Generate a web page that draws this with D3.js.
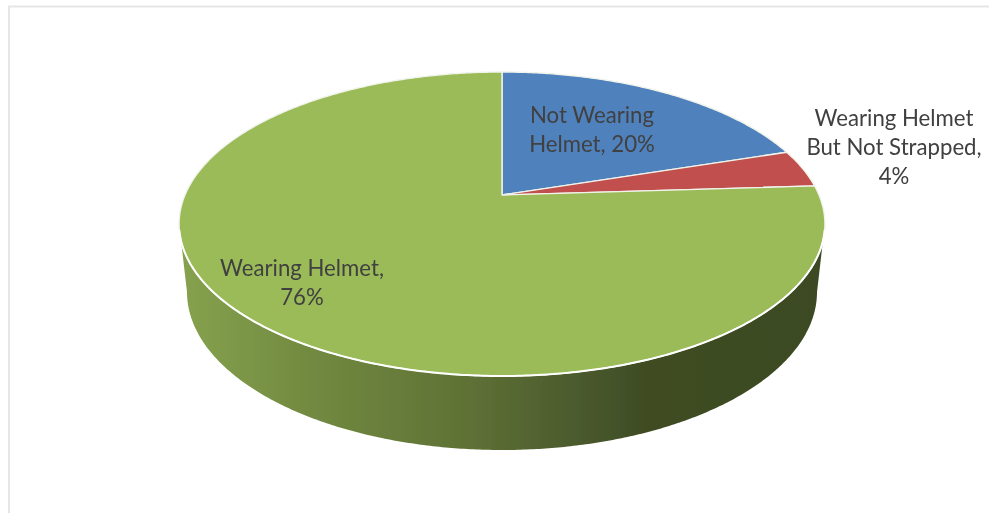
<!DOCTYPE html>
<html>
<head>
<meta charset="utf-8">
<script src="https://cdnjs.cloudflare.com/ajax/libs/d3/7.8.5/d3.min.js"></script>
<style>
html,body{margin:0;padding:0;background:#fff;overflow:hidden}
svg{display:block}
text{font-family:Lato,"Open Sans",sans-serif;font-size:22.2px;fill:#404040;text-anchor:middle}
</style>
</head>
<body>
<svg id="chart" width="989" height="513"></svg>
<script>
// Chart data
const categories = ["Not Wearing Helmet", "Wearing Helmet But Not Strapped", "Wearing Helmet"];
const values = [20, 4, 76];
const labelLines = [
  ["Not Wearing", "Helmet, 20%"],
  ["Wearing Helmet", "But Not Strapped,", "4%"],
  ["Wearing Helmet,", "76%"]
];

// Styles and layout
const sliceColors = ["#4f81bd", "#c0504d", "#9bbb59"];
const labelPositions = [[592, 116], [894, 119], [302, 269]];
const labelLeading = 29;
const W = 989, H = 513;

const svg = d3.select("#chart");
const defs = svg.append("defs");
const addBlur = (id, sd) => defs.append("filter").attr("id", id)
  .attr("x", "-5%").attr("y", "-5%").attr("width", "110%").attr("height", "110%")
  .append("feGaussianBlur").attr("stdDeviation", sd);
addBlur("soft", 0.45);
addBlur("softText", 0.55);

const grad = defs.append("linearGradient").attr("id", "wall")
  .attr("gradientUnits", "userSpaceOnUse")
  .attr("x1", 180).attr("x2", 825).attr("y1", 0).attr("y2", 0);
[[0, "#86a24e"], [0.2, "#728a40"], [0.45, "#5e7135"], [0.68, "#43522a"], [0.72, "#3f4c22"], [1, "#3d4a20"]]
  .forEach(([o, c]) => grad.append("stop").attr("offset", o).attr("stop-color", c));

// Frame of the original picture
svg.append("path")
  .attr("d", d3.line()([[9, H], [9, 6.5], [W, 6.5]]))
  .attr("fill", "none").attr("stroke", "#e6e6e6").attr("stroke-width", 2);

const root = svg.append("g").attr("filter", "url(#soft)");

// Perspective projection of the unit disc onto the tilted pie top
const cx = 502, apexY = 195, persp = 0.1908, kx = 317, ky = 109.26;
const project = a => {
  const x = Math.sin(a), y = -Math.cos(a), d = 1 - persp * y;
  return [cx + kx * x / d, (ky * y + apexY) / d];
};

// Lower rim of the extruded side
const lowerCy = 292, lowerRx = 315, lowerRy = 158;
const lowerRim = a => [cx + lowerRx * Math.sin(a), lowerCy - lowerRy * Math.cos(a)];

const line = d3.line();

// Side wall: visible lower part between the widest points of both rims
const topStart = Math.PI * 0.5 + 0.19, topEnd = Math.PI * 1.5 - 0.19;
const topEdge = d3.range(topStart, topEnd, 0.01).map(project);
const lowEdge = d3.range(Math.PI * 1.5, Math.PI * 0.5, -0.01).map(lowerRim);
root.append("path")
  .attr("d", line(topEdge.concat(lowEdge)) + "Z")
  .attr("fill", "url(#wall)");

// Top face
const pie = d3.pie().sort(null).value(d => d);
const arcs = pie(values);
root.selectAll("path.slice")
  .data(arcs)
  .join("path")
  .attr("class", "slice")
  .attr("d", d => {
    const n = Math.max(8, Math.ceil((d.endAngle - d.startAngle) / 0.01));
    const rim = d3.range(n + 1).map(i => project(d.startAngle + (d.endAngle - d.startAngle) * i / n));
    return line([[cx, apexY], ...rim]) + "Z";
  })
  .attr("fill", (d, i) => sliceColors[i])
  .attr("stroke", "#f1f4ec")
  .attr("stroke-width", 1.4)
  .attr("stroke-linejoin", "round")
  .append("title").text((d, i) => categories[i]);

// Bright highlight where the top meets the side wall
root.append("path")
  .attr("d", line(d3.range(topStart + 0.04, topEnd - 0.04, 0.01).map(project)))
  .attr("fill", "none")
  .attr("stroke", "#ffffff")
  .attr("stroke-width", 2);

// Labels
const labels = svg.append("g").attr("filter", "url(#softText)")
  .selectAll("text.label")
  .data(labelLines)
  .join("text")
  .attr("class", "label")
  .attr("x", (d, i) => labelPositions[i][0])
  .attr("y", (d, i) => labelPositions[i][1] + 7);
labels.selectAll("tspan")
  .data((d, i) => d.map(t => ({ t, x: labelPositions[i][0] })))
  .join("tspan")
  .attr("x", d => d.x)
  .attr("dy", (d, i) => i ? labelLeading : 0)
  .text(d => d.t);
</script>
</body>
</html>
